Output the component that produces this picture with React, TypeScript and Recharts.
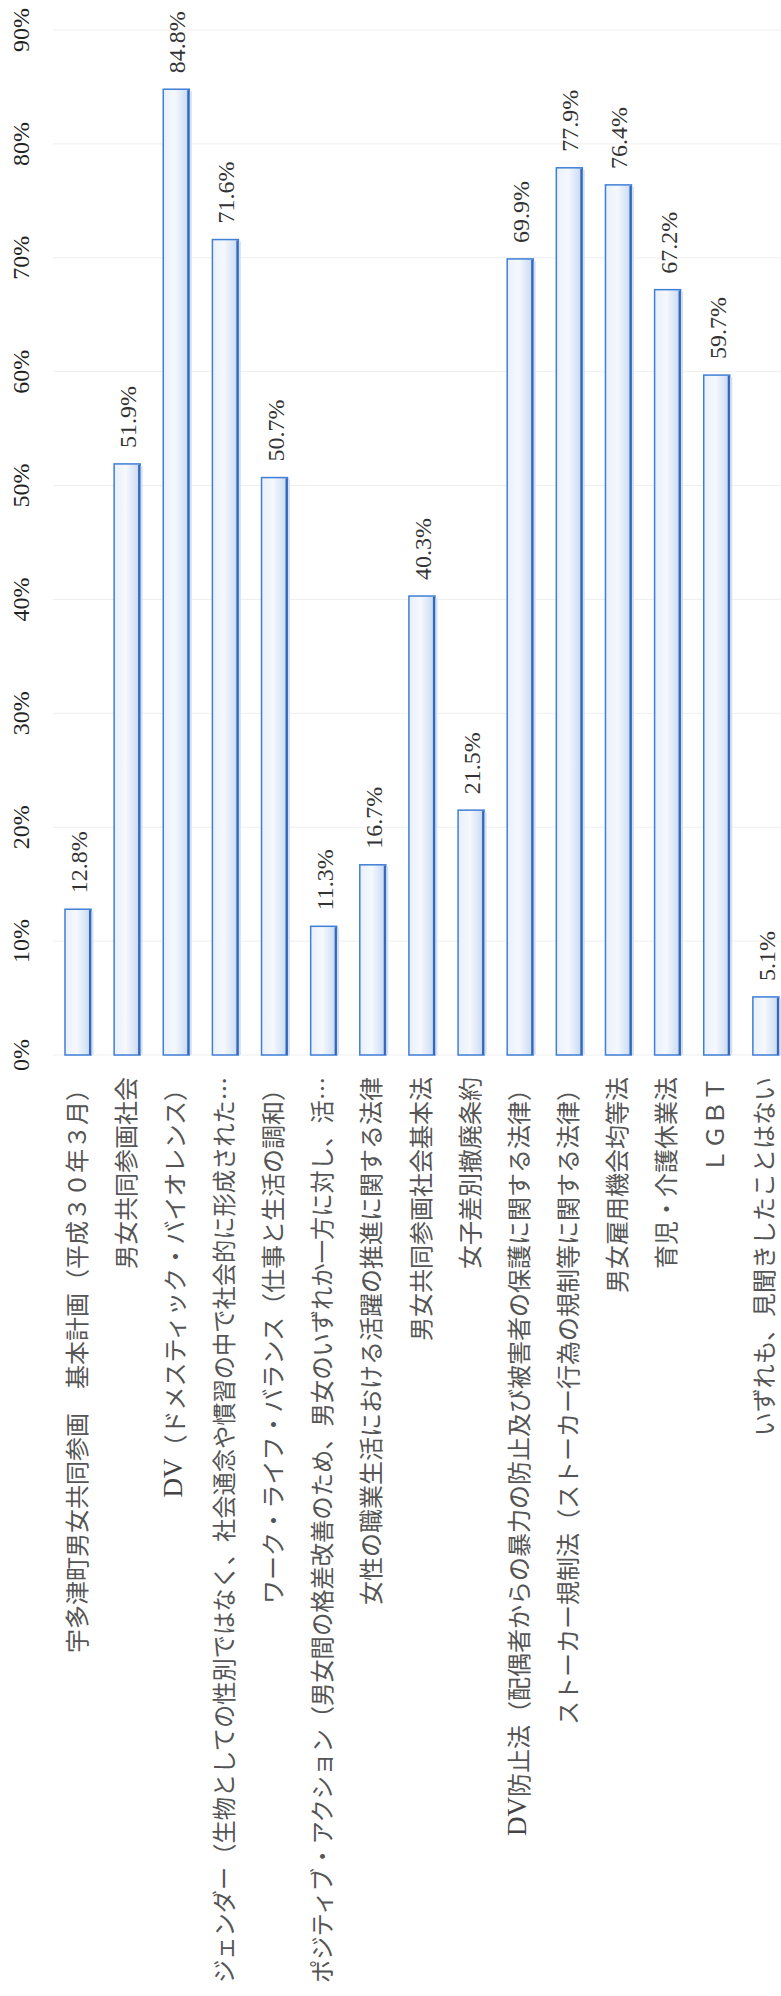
import {Bar, BarChart, CartesianGrid, LabelList, XAxis, YAxis} from 'recharts';

const categories = [
    '宇多津町男女共同参画　基本計画（平成３０年３月）',
    '男女共同参画社会',
    'DV（ドメスティック・バイオレンス）',
    'ジェンダー（生物としての性別ではなく、社会通念や慣習の中で社会的に形成された…',
    'ワーク・ライフ・バランス（仕事と生活の調和）',
    'ポジティブ・アクション（男女間の格差改善のため、男女のいずれか一方に対し、活…',
    '女性の職業生活における活躍の推進に関する法律',
    '男女共同参画社会基本法',
    '女子差別撤廃条約',
    'DV防止法（配偶者からの暴力の防止及び被害者の保護に関する法律）',
    'ストーカー規制法（ストーカー行為の規制等に関する法律）',
    '男女雇用機会均等法',
    '育児・介護休業法',
    'ＬＧＢＴ',
    'いずれも、見聞きしたことはない',
];

const values = [12.8, 51.9, 84.8, 71.6, 50.7, 11.3, 16.7, 40.3, 21.5, 69.9, 77.9, 76.4, 67.2, 59.7, 5.1];

const percentTicks = [0, 10, 20, 30, 40, 50, 60, 70, 80, 90];

const data = categories.map((name, i) => ({name, value: values[i]}));

const serif = '"Liberation Serif", "DejaVu Serif", serif';
const gothic = '"Noto Sans CJK JP", "Noto Sans", sans-serif';

const LABEL_SIZE = 24;
const LABEL_ROOM = 906;

// all text is turned a quarter turn so it reads upward
const PercentTick = ({x, y, payload}: any) => (
    <text transform={`translate(${x - 30},${y}) rotate(-90)`} textAnchor="middle" dominantBaseline="central"
          fontFamily={serif} fontSize={24} fill="#222">
        {`${payload.value}%`}
    </text>
);

// a leading "DV" is set in the serif face; labels too long for the room below the bars are squeezed
const CategoryTick = ({x, y, payload}: any) => {
    const label: string = payload.value;
    const latin = label.startsWith('DV') ? 'DV' : '';
    const approx = [...label].reduce((w, ch) => w + (ch.charCodeAt(0) < 256 ? LABEL_SIZE * 0.6 : LABEL_SIZE), 0);
    const fit = approx > LABEL_ROOM ? {textLength: LABEL_ROOM, lengthAdjust: 'spacingAndGlyphs'} : {};
    return (
        <text transform={`translate(${x - 3},${y + 20}) rotate(-90)`} textAnchor="end" dominantBaseline="central"
              fontFamily={gothic} fontSize={LABEL_SIZE} fill="#555" {...fit}>
            {latin && <tspan fontFamily={serif} fontSize={27} fill="#444">{latin}</tspan>}
            <tspan>{label.slice(latin.length)}</tspan>
        </text>
    );
};

const ValueLabel = ({x, y, width, value}: any) => (
    <text transform={`translate(${x + width / 2 + 1},${y - 16}) rotate(-90)`} textAnchor="start"
          dominantBaseline="central" fontFamily={serif} fontSize={24} fill="#333">
        {`${value}%`}
    </text>
);

const OutlinedBar = ({x, y, width, height}: any) => (
    <g>
        <rect x={x} y={y} width={width} height={height} fill="url(#barFill)" stroke="#3f7fd6" strokeWidth={1.5}/>
        <line x1={x + width - 1} y1={y + 1} x2={x + width - 1} y2={y + height} stroke="#3467b8" strokeWidth={2}/>
        <line x1={x + width + 1.5} y1={y + 2} x2={x + width + 1.5} y2={y + height} stroke="#d4e0f2" strokeWidth={2}/>
    </g>
);

export default function App() {
    return (
        <div style={{position: 'absolute', left: 0, top: 0, width: 781, height: 1996, overflow: 'hidden', background: '#fff'}}>
            <BarChart width={790} height={1996} data={data} margin={{top: 30, right: 0, bottom: 0, left: 0}}>
                <defs>
                    <linearGradient id="barFill" x1="0" y1="0" x2="1" y2="0">
                        <stop offset="0%" stopColor="#e9f0fb"/>
                        <stop offset="45%" stopColor="#f5f8fd"/>
                        <stop offset="85%" stopColor="#d3e1f5"/>
                        <stop offset="100%" stopColor="#b4cdee"/>
                    </linearGradient>
                </defs>
                <CartesianGrid vertical={false} stroke="#efefef"/>
                <XAxis dataKey="name" height={941} interval={0} axisLine={false} tickLine={false}
                       tickSize={0} tick={<CategoryTick/>}/>
                <YAxis type="number" domain={[0, 90]} ticks={percentTicks} width={53} axisLine={false}
                       tickLine={false} tickSize={0} tick={<PercentTick/>}/>
                <Bar dataKey="value" barSize={26} shape={<OutlinedBar/>} isAnimationActive={false}>
                    <LabelList dataKey="value" content={<ValueLabel/>}/>
                </Bar>
            </BarChart>
        </div>
    );
}
